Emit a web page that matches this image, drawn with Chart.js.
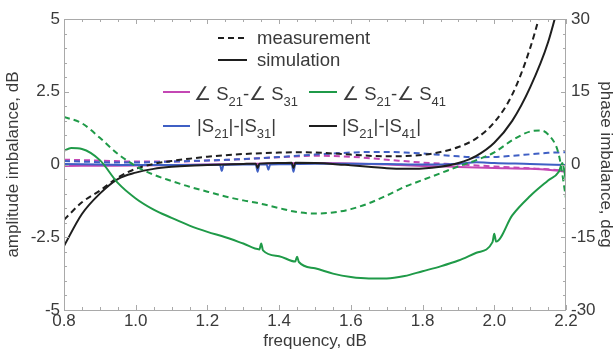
<!DOCTYPE html>
<html lang="en">
<head>
<meta charset="UTF-8">
<title>Amplitude / phase imbalance</title>
<script src="https://cdn.jsdelivr.net/npm/chart.js"></script>
<style>
  body { margin: 0; background: #fff; }
  #wrap { width: 615px; height: 354px; }
</style>
</head>
<body>
<div id="wrap"><canvas id="imbalance-chart" width="615" height="354"></canvas></div>
<script>
// |S21|-|S41| (dB, left axis)
const blackMeasFreq = [0.80, 0.85, 0.90, 0.95, 1.00, 1.05, 1.10, 1.15, 1.20, 1.25, 1.30, 1.35, 1.40, 1.45, 1.50, 1.55, 1.60, 1.65, 1.70, 1.75, 1.80, 1.85, 1.90, 1.95, 2.00, 2.05, 2.10, 2.15];
const blackMeasVal  = [-1.9, -1.3, -0.9, -0.45, -0.15, 0.02, 0.12, 0.2, 0.27, 0.32, 0.36, 0.39, 0.41, 0.42, 0.41, 0.38, 0.34, 0.3, 0.28, 0.29, 0.33, 0.43, 0.6, 0.9, 1.45, 2.4, 4.0, 6.2];
const blackSimFreq = [0.80, 0.85, 0.90, 0.95, 1.00, 1.05, 1.10, 1.15, 1.20, 1.25, 1.30, 1.335, 1.34, 1.345, 1.40, 1.435, 1.44, 1.445, 1.50, 1.55, 1.60, 1.65, 1.70, 1.75, 1.80, 1.85, 1.90, 1.95, 2.00, 2.05, 2.10, 2.15, 2.20];
const blackSimVal  = [-2.8, -1.7, -1.0, -0.5, -0.28, -0.15, -0.08, -0.04, -0.02, 0.0, 0.02, 0.03, -0.12, 0.03, 0.05, 0.06, -0.12, 0.06, 0.05, 0.02, -0.03, -0.08, -0.13, -0.15, -0.14, -0.08, 0.05, 0.3, 0.75, 1.5, 2.65, 4.2, 6.5];

// |S21|-|S31| (dB, left axis)
const blueMeasFreq = [0.80, 0.85, 0.90, 0.95, 1.00, 1.05, 1.10, 1.15, 1.20, 1.25, 1.30, 1.35, 1.40, 1.45, 1.50, 1.55, 1.60, 1.65, 1.70, 1.75, 1.80, 1.85, 1.90, 1.95, 2.00, 2.05, 2.10, 2.15, 2.20];
const blueMeasVal  = [0.12, 0.1, 0.08, 0.07, 0.07, 0.08, 0.1, 0.12, 0.14, 0.16, 0.19, 0.22, 0.26, 0.3, 0.34, 0.38, 0.41, 0.43, 0.43, 0.41, 0.38, 0.33, 0.28, 0.25, 0.26, 0.3, 0.35, 0.4, 0.42];
const blueSimFreq = [0.80, 0.90, 1.00, 1.10, 1.20, 1.235, 1.24, 1.245, 1.30, 1.335, 1.34, 1.345, 1.365, 1.37, 1.375, 1.435, 1.44, 1.445, 1.50, 1.60, 1.70, 1.80, 1.90, 1.95, 2.00, 2.10, 2.20];
const blueSimVal  = [0.02, 0.0, -0.02, -0.02, -0.01, -0.01, -0.22, -0.01, 0.0, 0.0, -0.25, 0.0, 0.0, -0.18, 0.0, 0.02, -0.25, 0.02, 0.03, 0.03, 0.02, 0.0, 0.03, 0.08, 0.05, 0.02, -0.02];

// angle S21 - angle S31 (deg, right axis)
const magentaMeasFreq = [0.80, 0.90, 1.00, 1.10, 1.20, 1.30, 1.40, 1.50, 1.60, 1.70, 1.80, 1.90, 2.00, 2.10, 2.15, 2.20];
const magentaMeasVal  = [1.0, 0.8, 0.6, 0.6, 0.8, 1.1, 1.5, 1.8, 1.6, 1.0, 0.4, 0.0, -0.4, -0.8, -1.0, -1.3];
const magentaSimFreq = [0.80, 0.90, 1.00, 1.10, 1.20, 1.30, 1.40, 1.50, 1.60, 1.70, 1.80, 1.90, 2.00, 2.10, 2.15, 2.20];
const magentaSimVal  = [-0.3, -0.25, -0.2, -0.1, 0.0, 0.1, 0.2, 0.3, 0.2, 0.0, -0.3, -0.5, -0.7, -0.9, -1.1, -1.5];

// angle S21 - angle S41 (deg, right axis)
const greenMeasFreq = [0.80, 0.85, 0.90, 0.95, 1.00, 1.05, 1.10, 1.15, 1.20, 1.25, 1.30, 1.35, 1.40, 1.45, 1.50, 1.55, 1.60, 1.65, 1.70, 1.75, 1.80, 1.85, 1.90, 1.95, 2.00, 2.05, 2.10, 2.13, 2.15, 2.18, 2.20];
const greenMeasVal  = [9.8, 8.5, 5.5, 2.2, -0.3, -2.1, -3.4, -4.6, -5.6, -6.6, -7.4, -8.1, -9.0, -9.8, -10.1, -9.9, -9.2, -8.0, -6.4, -4.6, -3.2, -1.8, -0.4, 0.9, 2.5, 5.0, 6.8, 7.0, 6.2, 2.0, -7.0];
const greenSimFreq = [0.80, 0.82, 0.85, 0.90, 0.95, 1.00, 1.05, 1.10, 1.15, 1.20, 1.25, 1.30, 1.345, 1.35, 1.355, 1.40, 1.445, 1.45, 1.455, 1.50, 1.55, 1.60, 1.65, 1.70, 1.75, 1.80, 1.85, 1.90, 1.95, 1.995, 2.00, 2.005, 2.05, 2.10, 2.15, 2.18, 2.19, 2.20];
const greenSimVal  = [2.8, 3.4, 3.2, 0.9, -3.8, -7.0, -9.3, -11.0, -12.6, -13.9, -15.0, -16.3, -17.5, -16.3, -17.7, -18.9, -20.0, -19.0, -20.1, -21.4, -22.5, -23.2, -23.5, -23.5, -23.0, -22.0, -21.0, -19.8, -18.2, -16.0, -14.3, -15.9, -10.5, -6.5, -3.3, -1.5, 0.3, -3.5];

const xTicks = [0.8, 1.0, 1.2, 1.4, 1.6, 1.8, 2.0, 2.2];
const phaseTicks = [-30, -15, 0, 15, 30];

const BLACK = '#1e1e1e', BLUE = '#3f5fc4', MAGENTA = '#c447b4', GREEN = '#1f9a48';
const TEXT = '#3a3a3a';
const FONT = 'Arial, "Liberation Sans", sans-serif';

function pts(fs, vs) {
    return fs.map((f, i) => ({ x: f, y: vs[i] }));
}

function series(fs, vs, color, dashed, axis) {
    return {
        data: pts(fs, vs),
        borderColor: color,
        borderWidth: 2,
        borderDash: dashed ? [6, 4] : [],
        pointRadius: 0,
        fill: false,
        cubicInterpolationMode: 'monotone',
        yAxisID: axis
    };
}

// frame with inward ticks on all four sides, right axis text, legend
const framePlugin = {
    id: 'frame',
    afterDraw(chart) {
        const { ctx, chartArea: a, scales } = chart;
        ctx.save();
        ctx.strokeStyle = '#a9a9a9';
        ctx.lineWidth = 1;
        ctx.strokeRect(Math.round(a.left) + 0.5, Math.round(a.top) + 0.5, a.right - a.left - 1, a.bottom - a.top);
        ctx.beginPath();
        for (let i = 0; i <= 28; i++) {
            const px = Math.round(scales.x.getPixelForValue(0.8 + i * 0.05)) + 0.5;
            const len = i % 4 === 0 ? 5 : 3;
            ctx.moveTo(px, a.bottom); ctx.lineTo(px, a.bottom - len);
            ctx.moveTo(px, a.top); ctx.lineTo(px, a.top + len);
        }
        for (let i = 0; i <= 20; i++) {
            const py = Math.round(scales.y.getPixelForValue(-5 + i * 0.5)) + 0.5;
            const len = i % 5 === 0 ? 5 : 3;
            ctx.moveTo(a.left, py); ctx.lineTo(a.left + len, py);
            ctx.moveTo(a.right, py); ctx.lineTo(a.right - len, py);
        }
        ctx.stroke();

        // right (phase) axis labels and title
        ctx.fillStyle = TEXT;
        ctx.font = '17px ' + FONT;
        ctx.textAlign = 'left';
        ctx.textBaseline = 'middle';
        phaseTicks.forEach(v => ctx.fillText(String(v), a.right + 5, scales.y2.getPixelForValue(v)));
        ctx.save();
        ctx.translate(606, (a.top + a.bottom) / 2);
        ctx.rotate(Math.PI / 2);
        ctx.textAlign = 'center';
        ctx.fillText('phase imbalance, deg', 0, 0);
        ctx.restore();

        drawLegend(ctx);
        ctx.restore();
    }
};

function drawRich(ctx, parts, x, y, size) {
    ctx.textAlign = 'left';
    ctx.textBaseline = 'alphabetic';
    parts.forEach(([t, sub]) => {
        const s = sub ? Math.round(size * 0.72) : size;
        ctx.font = s + 'px ' + FONT;
        ctx.fillText(t, x, sub ? y + 6 : y);
        x += ctx.measureText(t).width;
    });
}

function legendLine(ctx, x1, x2, y, color, dashed) {
    ctx.beginPath();
    ctx.strokeStyle = color;
    ctx.lineWidth = 2;
    ctx.setLineDash(dashed ? [6, 4] : []);
    ctx.moveTo(x1, y); ctx.lineTo(x2, y);
    ctx.stroke();
    ctx.setLineDash([]);
}

function drawLegend(ctx) {
    ctx.fillStyle = TEXT;
    legendLine(ctx, 218, 247, 38, BLACK, true);
    drawRich(ctx, [['measurement', false]], 257, 44, 18.5);
    legendLine(ctx, 218, 247, 60, BLACK, false);
    drawRich(ctx, [['simulation', false]], 257, 66, 18.5);

    legendLine(ctx, 163, 190, 92, MAGENTA, false);
    drawRich(ctx, [['\u2220 S', false], ['21', true], ['-\u2220 S', false], ['31', true]], 194, 100, 18.5);
    legendLine(ctx, 309, 337, 92, GREEN, false);
    drawRich(ctx, [['\u2220 S', false], ['21', true], ['-\u2220 S', false], ['41', true]], 342, 100, 18.5);

    legendLine(ctx, 163, 190, 126, BLUE, false);
    drawRich(ctx, [['|S', false], ['21', true], ['|-|S', false], ['31', true], ['|', false]], 197, 132, 18.5);
    legendLine(ctx, 309, 337, 126, BLACK, false);
    drawRich(ctx, [['|S', false], ['21', true], ['|-|S', false], ['41', true], ['|', false]], 342, 132, 18.5);
}

const tickFont = { family: FONT, size: 17 };

new Chart(document.getElementById('imbalance-chart'), {
    type: 'line',
    data: {
        datasets: [
            series(greenMeasFreq, greenMeasVal, GREEN, true, 'y2'),
            series(greenSimFreq, greenSimVal, GREEN, false, 'y2'),
            series(blackMeasFreq, blackMeasVal, BLACK, true, 'y'),
            series(blackSimFreq, blackSimVal, BLACK, false, 'y'),
            series(blueMeasFreq, blueMeasVal, BLUE, true, 'y'),
            series(blueSimFreq, blueSimVal, BLUE, false, 'y'),
            series(magentaMeasFreq, magentaMeasVal, MAGENTA, true, 'y2'),
            series(magentaSimFreq, magentaSimVal, MAGENTA, false, 'y2')
        ]
    },
    options: {
        responsive: false,
        animation: false,
        layout: { padding: { top: 19, left: 0, right: 0, bottom: 0 } },
        plugins: { legend: { display: false }, tooltip: { enabled: false } },
        scales: {
            x: {
                type: 'linear',
                min: 0.8, max: 2.2,
                afterBuildTicks: s => { s.ticks = xTicks.map(v => ({ value: v })); },
                afterFit: s => { s.height = 44; },
                grid: { display: false, drawTicks: false, tickLength: 0 },
                border: { display: false },
                ticks: { font: tickFont, color: TEXT, padding: 1, maxRotation: 0, callback: v => v.toFixed(1) },
                title: { display: true, text: 'frequency, dB', font: { family: FONT, size: 17 }, color: TEXT, padding: { top: 0, bottom: 2 } }
            },
            y: {
                position: 'left',
                min: -5, max: 5,
                ticks: { stepSize: 2.5, font: tickFont, color: TEXT, padding: 4, callback: v => String(v) },
                afterFit: s => { s.width = 64; },
                grid: { display: false, drawTicks: false, tickLength: 0 },
                border: { display: false },
                title: { display: true, text: 'amplitude imbalance, dB', font: { family: FONT, size: 17 }, color: TEXT, padding: { top: 3, bottom: 0 } }
            },
            y2: {
                position: 'right',
                min: -30, max: 30,
                ticks: { display: false, stepSize: 15 },
                afterFit: s => { s.width = 49; },
                grid: { display: false, drawTicks: false },
                border: { display: false }
            }
        }
    },
    plugins: [framePlugin]
});
</script>
</body>
</html>
